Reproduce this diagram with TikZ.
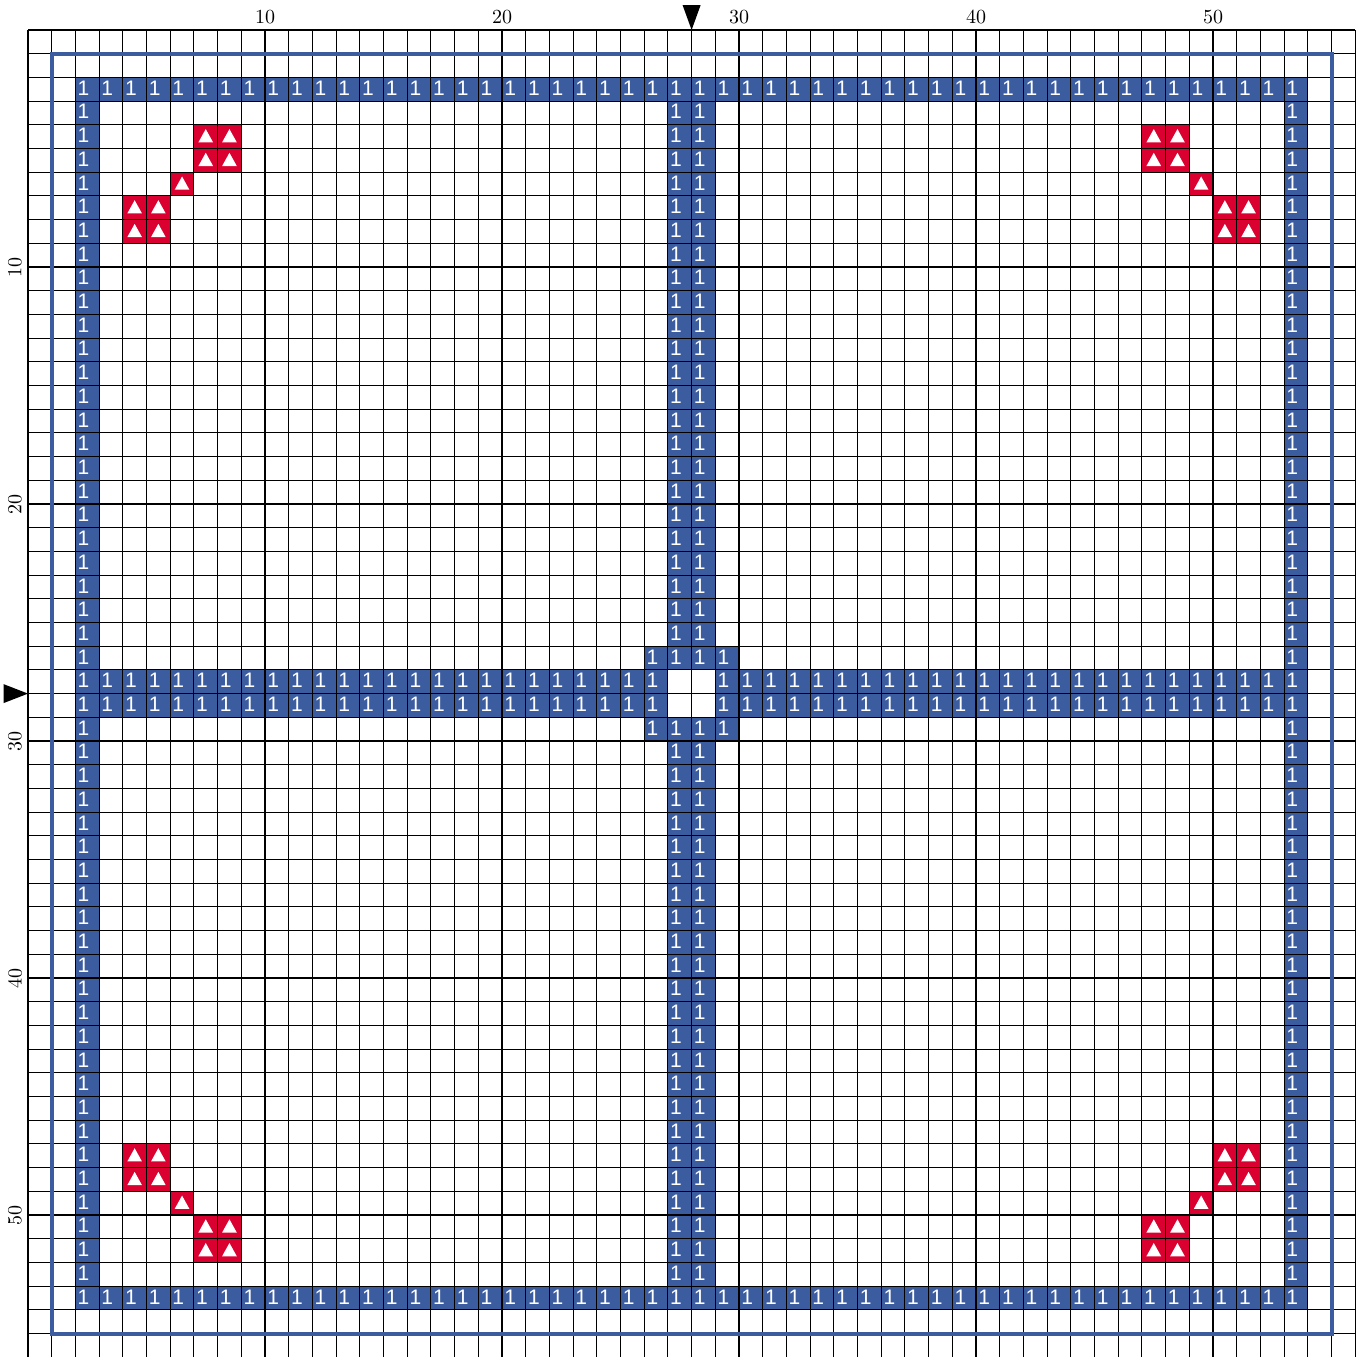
\documentclass[tikz,border=0pt]{standalone}
\usepackage{fontspec}
\newfontfamily\cellfont{Liberation Sans}
\definecolor{stitchblue}{RGB}{60,92,160}
\definecolor{stitchred}{RGB}{218,0,48}
\tikzset{
  onelabel/.style={anchor=west,inner sep=0pt,text=white,font=\cellfont\fontsize{10.5}{11}\selectfont},
  bcell/.pic={\fill[stitchblue] (0,0) rectangle (1,1); \node[onelabel] at (0.08,0.45) {1};},
  rcell/.pic={\fill[stitchred] (0,0) rectangle (1,1); \fill[white] (0.5,0.18) -- (0.81,0.74) -- (0.19,0.74) -- cycle;},
  gridthin/.style={black,line width=0.5pt},
  gridthick/.style={black,line width=1.1pt},
  axislabel/.style={inner sep=0pt,font=\fontsize{10}{12}\selectfont},
  marker/.style={fill=black},
  frame/.style={draw=stitchblue,line width=2pt}
}
\begin{document}
\begin{tikzpicture}[x=11.85pt,y=-11.85pt]
\useasboundingbox[fill=white] (-1.18143,-1.26582) rectangle (56.1181,55.9494);
% blue stitches
\foreach \c in {2,...,53} { \pic at (\c,2) {bcell}; \pic at (\c,53) {bcell}; }
\foreach \r in {3,...,52} { \pic at (2,\r) {bcell}; \pic at (53,\r) {bcell}; }
\foreach \r in {3,...,26,29,30,...,52} { \pic at (27,\r) {bcell}; \pic at (28,\r) {bcell}; }
\foreach \c in {3,...,26,29,30,...,52} { \pic at (\c,27) {bcell}; \pic at (\c,28) {bcell}; }
\foreach \c/\r in {26/26,29/26,26/29,29/29} { \pic at (\c,\r) {bcell}; }
% red stitches (four symmetric corners)
\foreach \c/\r in {7/4,8/4,7/5,8/5,6/6,4/7,5/7,4/8,5/8} {
  \pgfmathtruncatemacro{\cc}{55-\c}
  \pgfmathtruncatemacro{\rr}{55-\r}
  \pic at (\c,\r) {rcell};
  \pic at (\cc,\r) {rcell};
  \pic at (\c,\rr) {rcell};
  \pic at (\cc,\rr) {rcell};
}
% grid
\foreach \i in {0,...,56} {
  \draw[gridthin] (\i,0) -- (\i,56);
  \draw[gridthin] (0,\i) -- (56,\i);
}
\foreach \i in {0,10,20,30,40,50} {
  \draw[gridthick] (\i,0) -- (\i,56);
  \draw[gridthick] (0,\i) -- (56,\i);
}
% outer frame
\draw[frame] (1,1) rectangle (55,55);
% axis labels
\foreach \i in {10,20,30,40,50} {
  \node[axislabel] (top\i) at (\i,-0.55) {\i};
  \node[axislabel,rotate=90] (left\i) at (-0.55,\i) {\i};
}
% center markers
\coordinate (ctop) at (28,0);
\coordinate (cleft) at (0,28);
\fill[marker] (ctop) -- ++(-0.38,-1.05) -- ++(0.76,0) -- cycle;
\fill[marker] (cleft) -- ++(-1.03,-0.4) -- ++(0,0.8) -- cycle;
\end{tikzpicture}
\end{document}
